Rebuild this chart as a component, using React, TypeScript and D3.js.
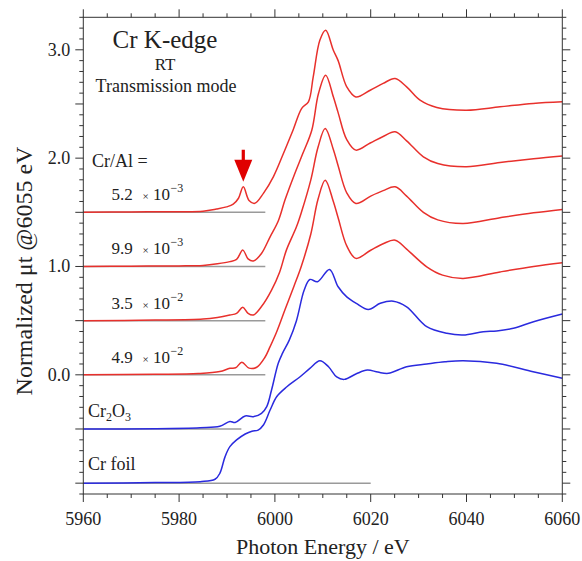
import React from 'react'
import * as d3 from 'd3'

const W = 582
const H = 561
const frame = { left: 83.3, right: 562.3, top: 17.3, bottom: 494 }

// axis tick labels
const energyTicks = [5960, 5980, 6000, 6020, 6040, 6060]
const muTicks = [0, 1, 2, 3]

// normalized spectra [energy eV, normalized mu t]
const crAl52 = [
  [5960, 0], [5970, 0.004], [5980, 0.005], [5985, 0.01], [5987.8, 0.03], [5989.9, 0.05],
  [5991.3, 0.075], [5992.4, 0.13], [5993.4, 0.236], [5994.6, 0.11], [5995.8, 0.083],
  [5997.6, 0.175], [5999.7, 0.33], [6001.8, 0.545], [6003.8, 0.76], [6005.6, 0.96],
  [6007, 1.02], [6008, 1.25], [6009.4, 1.59], [6010.6, 1.68], [6012.2, 1.496],
  [6013.2, 1.4], [6015, 1.158], [6016.9, 1.065], [6019.9, 1.127], [6022.6, 1.19],
  [6025.1, 1.235], [6027.5, 1.158], [6030.3, 1.035], [6033.8, 0.968], [6040, 0.943],
  [6047, 0.974], [6053.9, 1.005], [6060, 1.02],
]
const crAl99 = [
  [5960, 0], [5970, 0.003], [5980, 0.005], [5985, 0.01], [5988, 0.025], [5990.6, 0.045],
  [5992, 0.065], [5993.3, 0.151], [5994.4, 0.07], [5995.5, 0.05], [5997.2, 0.12],
  [5999, 0.274], [6000.7, 0.42], [6002.1, 0.613], [6004, 0.84], [6005.8, 1.04],
  [6007.7, 1.258], [6009.1, 1.597], [6010.6, 1.766], [6012.2, 1.566], [6013.2, 1.42],
  [6015, 1.17], [6016.9, 1.074], [6019.9, 1.14], [6022.6, 1.2], [6025.1, 1.243],
  [6027.5, 1.16], [6031, 1.012], [6034, 0.95], [6040, 0.92], [6047, 0.96],
  [6054, 0.995], [6060, 1.02],
]
const crAl350 = [
  [5960, 0], [5975, 0.005], [5985, 0.015], [5988, 0.03], [5990.6, 0.052], [5992, 0.067],
  [5993.3, 0.123], [5994.4, 0.067], [5995.5, 0.052], [5997.2, 0.13], [5999.3, 0.282],
  [6001, 0.45], [6002.4, 0.651], [6004.5, 0.866], [6005.6, 1.01], [6007.5, 1.3],
  [6009, 1.6], [6010.5, 1.774], [6012.2, 1.58], [6013.2, 1.43], [6015, 1.18],
  [6016.9, 1.082], [6020, 1.15], [6022.6, 1.2], [6025.1, 1.235], [6027.5, 1.15],
  [6031, 1.0], [6034, 0.93], [6039.3, 0.897], [6047, 0.95], [6054, 0.995], [6060, 1.027],
]
const crAl490 = [
  [5960, 0], [5975, 0.005], [5984, 0.012], [5988.5, 0.03], [5990.6, 0.06], [5991.8, 0.065],
  [5993.1, 0.115], [5994.6, 0.062], [5996.2, 0.07], [5997.9, 0.16], [5999, 0.26],
  [6000.4, 0.4], [6002.1, 0.6], [6004, 0.82], [6005.5, 1.0], [6007.5, 1.3], [6009, 1.62],
  [6010.5, 1.797], [6012.2, 1.6], [6013.2, 1.45], [6015, 1.19], [6016.9, 1.075],
  [6020, 1.15], [6022.6, 1.21], [6025.1, 1.243], [6027.5, 1.16], [6031.7, 0.997],
  [6035, 0.92], [6039.3, 0.89], [6047, 0.95], [6054, 1.0], [6060, 1.034],
]
const cr2o3 = [
  [5960, 0], [5975, 0.003], [5984.4, 0.012], [5988.5, 0.025], [5990.6, 0.07], [5991.7, 0.06],
  [5993.8, 0.12], [5995.5, 0.114], [5997.2, 0.145], [5998.3, 0.207], [5999.3, 0.36],
  [6000.7, 0.606], [6001.6, 0.7], [6003, 0.82], [6004.5, 1.0], [6006.1, 1.28],
  [6007.3, 1.38], [6008.9, 1.359], [6011.4, 1.473], [6013.2, 1.313], [6015, 1.22],
  [6017, 1.16], [6019.5, 1.104], [6022, 1.16], [6024.7, 1.18], [6027.5, 1.128],
  [6031.7, 0.944], [6035.9, 0.883], [6039.3, 0.867], [6043.5, 0.898], [6046.3, 0.904],
  [6049.8, 0.929], [6054, 0.99], [6060, 1.061],
]
const crFoil = [
  [5960, 0], [5975, 0.005], [5984.4, 0.014], [5987.5, 0.036], [5988.5, 0.09],
  [5989.6, 0.245], [5990.6, 0.337], [5992, 0.399], [5993.8, 0.454], [5995.2, 0.48],
  [5996.5, 0.49], [5997.6, 0.537], [5999, 0.675], [6000.4, 0.8], [6002.5, 0.89],
  [6005.2, 0.98], [6007.3, 1.059], [6009.4, 1.13], [6011.2, 1.074], [6012.9, 0.98],
  [6014.5, 0.958], [6017, 1.01], [6019.3, 1.044], [6021.5, 1.025], [6023.7, 1.014],
  [6027.5, 1.075], [6031.7, 1.1], [6035.5, 1.12], [6039.3, 1.13], [6046.3, 1.106],
  [6053.9, 1.029], [6060, 0.968],
]

const ratioMantissa = ['5.2', '9.9', '3.5', '4.9']
const ratioExponent = ['\u22123', '\u22123', '\u22122', '\u22122']

const RED = '#e8302c'
const BLUE = '#2a2ade'
const serif = '"Liberation Serif", "Times New Roman", Times, serif'

const spectra = [
  { data: crAl52, offset: 1.5, color: RED, baseEnd: 5998 },
  { data: crAl99, offset: 1.0, color: RED, baseEnd: 5998 },
  { data: crAl350, offset: 0.5, color: RED, baseEnd: 5998 },
  { data: crAl490, offset: 0.0, color: RED, baseEnd: 5998 },
  { data: cr2o3, offset: -0.5, color: BLUE, baseEnd: 5993 },
  { data: crFoil, offset: -1.0, color: BLUE, baseEnd: 6020 },
]

export default function App() {
  const x = d3.scaleLinear().domain([5960, 6060]).range([frame.left, frame.right])
  const y = d3.scaleLinear().domain([-1.1, 3.3]).range([frame.bottom, frame.top])

  const line = (offset) =>
    d3.line()
      .x(d => x(d[0]))
      .y(d => y(d[1] + offset))
      .curve(d3.curveCatmullRom.alpha(0.5))

  // tick positions: 0.1 minor, 0.5 major on y; 5 eV minor, 20 eV major on x
  const yTicks = d3.range(-11, 34).map(i => ({ v: i / 10, major: i % 5 === 0 }))
  const xTicks = d3.range(5960, 6061, 5).map(e => ({ v: e, major: (e - 5960) % 20 === 0 }))

  const axisColor = '#333'
  const arrowX = x(5993.4)
  const arrowTip = y(1.5 + 0.236) - 5

  return (
    <svg width={W} height={H} style={{ position: 'absolute', left: 0, top: 0, background: '#fff' }}
      fontFamily={serif}>
      {/* gray baselines */}
      {spectra.map((s, i) => (
        <line key={'b' + i} x1={x(5960)} x2={x(s.baseEnd)} y1={y(s.offset)} y2={y(s.offset)}
          stroke="#9a9a9a" strokeWidth={1.5} />
      ))}

      {/* spectra */}
      {spectra.map((s, i) => (
        <path key={'s' + i} d={line(s.offset)(s.data)} fill="none" stroke={s.color}
          strokeWidth={1.5} />
      ))}

      {/* frame */}
      <rect x={frame.left} y={frame.top} width={frame.right - frame.left}
        height={frame.bottom - frame.top} fill="none" stroke={axisColor} strokeWidth={1} />
      {yTicks.map((t, i) => {
        const len = t.major ? 8 : 4
        return (
          <g key={'yt' + i} stroke={axisColor} strokeWidth={1}>
            <line x1={frame.left - len} x2={frame.left} y1={y(t.v)} y2={y(t.v)} />
            <line x1={frame.right} x2={frame.right + len} y1={y(t.v)} y2={y(t.v)} />
          </g>
        )
      })}
      {xTicks.map((t, i) => {
        const len = t.major ? 8 : 4
        return (
          <g key={'xt' + i} stroke={axisColor} strokeWidth={1}>
            <line x1={x(t.v)} x2={x(t.v)} y1={frame.bottom} y2={frame.bottom + len} />
            <line x1={x(t.v)} x2={x(t.v)} y1={frame.top - len} y2={frame.top} />
          </g>
        )
      })}

      {/* tick labels */}
      {muTicks.map(v => (
        <text key={'yl' + v} x={frame.left - 13} y={y(v) + 6} fontSize={18} textAnchor="end"
          fill="#222">{v.toFixed(1)}</text>
      ))}
      {energyTicks.map(e => (
        <text key={'xl' + e} x={x(e)} y={525} fontSize={18} textAnchor="middle"
          fill="#222">{e}</text>
      ))}

      {/* axis titles */}
      <text x={(frame.left + frame.right) / 2} y={554} fontSize={22} textAnchor="middle"
        fill="#222">Photon Energy / eV</text>
      <text transform={`translate(32,271) rotate(-90)`} fontSize={24} textAnchor="middle"
        fill="#222">Normalized μt @6055 eV</text>

      {/* header */}
      <text x={165} y={48} fontSize={25} textAnchor="middle" fill="#222">Cr K-edge</text>
      <text x={165} y={70} fontSize={17} textAnchor="middle" fill="#222">RT</text>
      <text x={166} y={92} fontSize={18} textAnchor="middle" fill="#222">Transmission mode</text>
      <text x={92} y={167} fontSize={18} fill="#222">Cr/Al =</text>

      {/* ratio labels */}
      {spectra.slice(0, 4).map((s, i) => {
        const by = y(s.offset) - 12
        return (
          <text key={'r' + i} y={by} fontSize={17} fill="#222">
            <tspan x={111.5}>{ratioMantissa[i]}</tspan>
            <tspan x={142.5} fontSize={11}>×</tspan>
            <tspan x={153}>10</tspan>
            <tspan x={170.5} dy={-8} fontSize={12}>{ratioExponent[i]}</tspan>
          </text>
        )
      })}

      {/* reference labels */}
      <text y={y(-0.5) - 12} fontSize={18} fill="#222">
        <tspan x={88}>Cr</tspan>
        <tspan dy={4} fontSize={12}>2</tspan>
        <tspan dy={-4}>O</tspan>
        <tspan dy={4} fontSize={12}>3</tspan>
      </text>
      <text x={88} y={y(-1.0) - 13} fontSize={18} fill="#222">Cr foil</text>

      {/* pre-edge arrow */}
      <rect x={arrowX - 1.6} y={arrowTip - 32} width={3.2} height={12} fill="#e00000" />
      <path d={`M${arrowX - 9},${arrowTip - 22} L${arrowX + 9},${arrowTip - 22} L${arrowX},${arrowTip} Z`}
        fill="#e00000" />
    </svg>
  )
}
